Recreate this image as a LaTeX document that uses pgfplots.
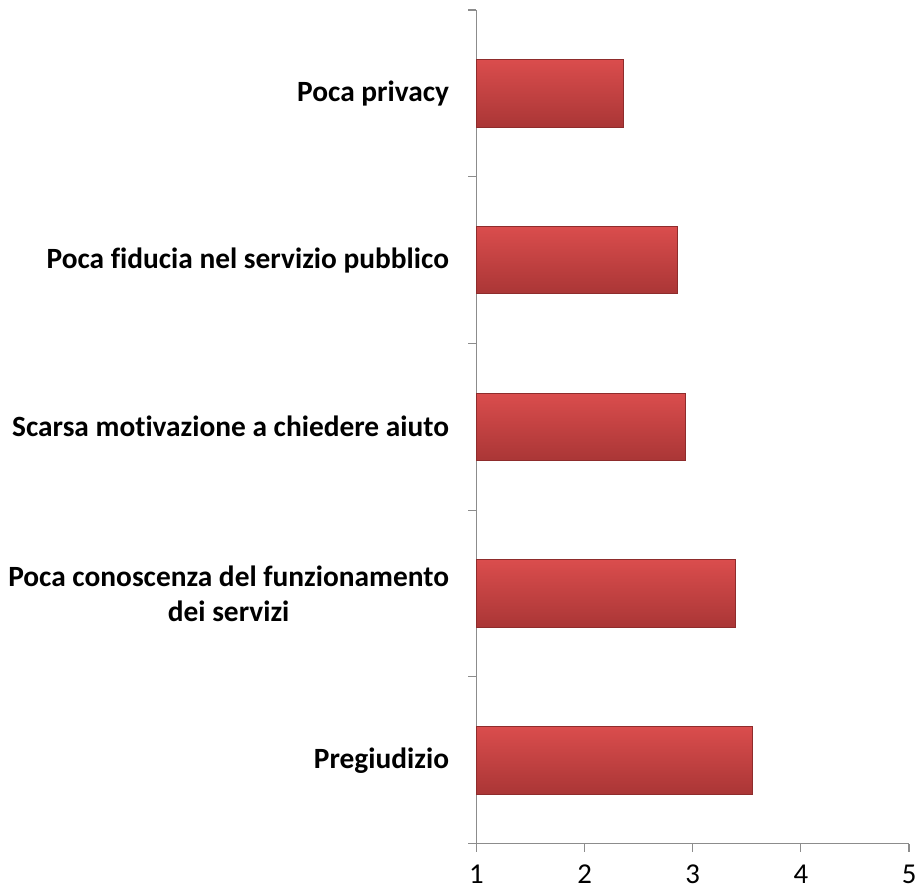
\documentclass[border=0pt]{standalone}
\usepackage{pgfplots}
\pgfplotsset{compat=1.18}
\usepackage{fontspec}
\setmainfont{Carlito}[Ligatures=NoCommon]
\definecolor{barTop}{HTML}{DA4D4D}
\definecolor{barMid}{HTML}{CA4343}
\definecolor{barBot}{HTML}{AA3636}
\definecolor{barEdge}{HTML}{8E2C2C}
\definecolor{axisGray}{HTML}{8C8C8C}
\pgfplotsset{barstyle/.style={xbar, bar shift=0pt, draw=barEdge, line width=0.6pt,
    top color=barTop, middle color=barMid, bottom color=barBot}}
\begin{document}
\begin{tikzpicture}
\begin{axis}[
    name=ax,
    scale only axis,
    width=436pt,
    height=840pt,
    xbar,
    bar width=68pt,
    xmin=1, xmax=5,
    ymin=-0.5, ymax=4.5,
    xtick={1,2,3,4,5},
    ytick={-0.5,0.5,1.5,2.5,3.5,4.5},
    yticklabels={},
    extra y ticks={0,1,2,3,4},
    extra y tick labels={Pregiudizio,
        {Poca conoscenza del funzionamento\\dei servizi},
        Scarsa motivazione a chiedere aiuto,
        Poca fiducia nel servizio pubblico,
        Poca privacy},
    extra y tick style={major tick length=0pt},
    axis x line*=bottom,
    axis y line*=left,
    axis line style={axisGray, line width=1.2pt},
    tick align=outside,
    major tick length=8pt,
    tick style={axisGray, line width=1.2pt},
    yticklabel style={font=\fontsize{29.6}{35}\selectfont\bfseries, align=center, xshift=-24pt},
    xticklabel style={font=\fontsize{29}{34}\selectfont, yshift=-10pt},
    /pgf/number format/assume math mode=true,
    clip=false,
]
\addplot[barstyle] coordinates {(3.55,0)};
\addplot[barstyle] coordinates {(3.39,1)};
\addplot[barstyle] coordinates {(2.93,2)};
\addplot[barstyle] coordinates {(2.86,3)};
\addplot[barstyle] coordinates {(2.36,4)};
\end{axis}
\path[use as bounding box] (ax.south west) ++(-480pt,-46pt) rectangle ++(927pt,896pt);
\end{tikzpicture}
\end{document}
